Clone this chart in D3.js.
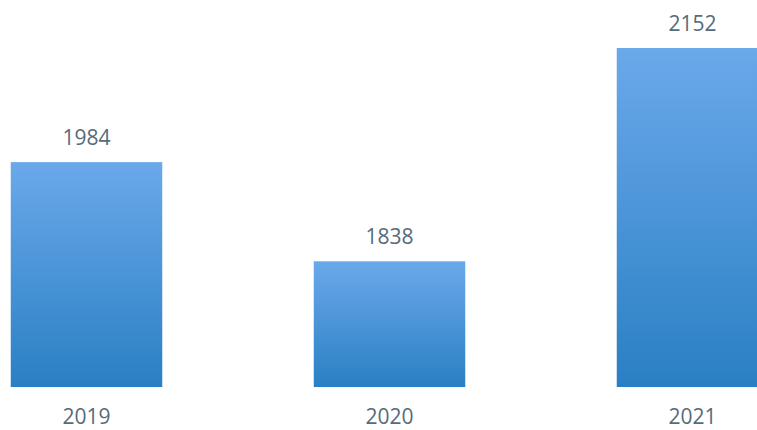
<!DOCTYPE html>
<html>
<head>
<meta charset="utf-8">
<script src="https://cdn.jsdelivr.net/npm/d3@7"></script>
<style>
  body { margin: 0; background: #fff; }
  svg { display: block; }
</style>
</head>
<body>
<svg id="chart"></svg>
<script>
var years = ["2019", "2020", "2021"];
var values = [1984, 1838, 2152];

var width = 757;
var height = 430;

var svg = d3.select("#chart")
    .attr("width", width)
    .attr("height", height);

// gradient for the bars
var grad = svg.append("defs").append("linearGradient")
    .attr("id", "barGrad")
    .attr("x1", 0).attr("y1", 0)
    .attr("x2", 0).attr("y2", 1);
grad.append("stop").attr("offset", "0%").attr("stop-color", "#6aa9ea");
grad.append("stop").attr("offset", "100%").attr("stop-color", "#2a7fc4");

// x scale, the last bar runs off the right edge
var xScale = d3.scaleBand()
    .domain(years)
    .range([-65, 844])
    .paddingInner(0.5)
    .paddingOuter(0.25);

// y scale does not start at zero
var yScale = d3.scaleLinear()
    .domain([1653, 2152])
    .range([387, 48]);

svg.selectAll("rect.bar")
    .data(values)
    .enter()
    .append("rect")
    .attr("class", "bar")
    .attr("x", function(d, i) { return xScale(years[i]); })
    .attr("y", function(d) { return yScale(d); })
    .attr("width", xScale.bandwidth())
    .attr("height", function(d) { return yScale(1653) - yScale(d); })
    .attr("fill", "url(#barGrad)");

// value labels
svg.selectAll("text.value")
    .data(values)
    .enter()
    .append("text")
    .attr("class", "value")
    .attr("x", function(d, i) { return xScale(years[i]) + xScale.bandwidth() / 2; })
    .attr("y", function(d) { return yScale(d) - 17; })
    .attr("text-anchor", "middle")
    .attr("font-family", "'Open Sans', sans-serif")
    .attr("font-size", "21px")
    .attr("fill", "#566b7b")
    .text(function(d) { return d; });

// category labels
var x_axis = d3.axisBottom(xScale).tickSize(0).tickPadding(0);

var xg = svg.append("g")
    .attr("class", "x_axis")
    .attr("transform", "translate(0,409)")
    .call(x_axis);

xg.select(".domain").remove();
xg.selectAll("text")
    .attr("font-family", "'Open Sans', sans-serif")
    .attr("font-size", "21px")
    .attr("fill", "#566b7b");
</script>
</body>
</html>
